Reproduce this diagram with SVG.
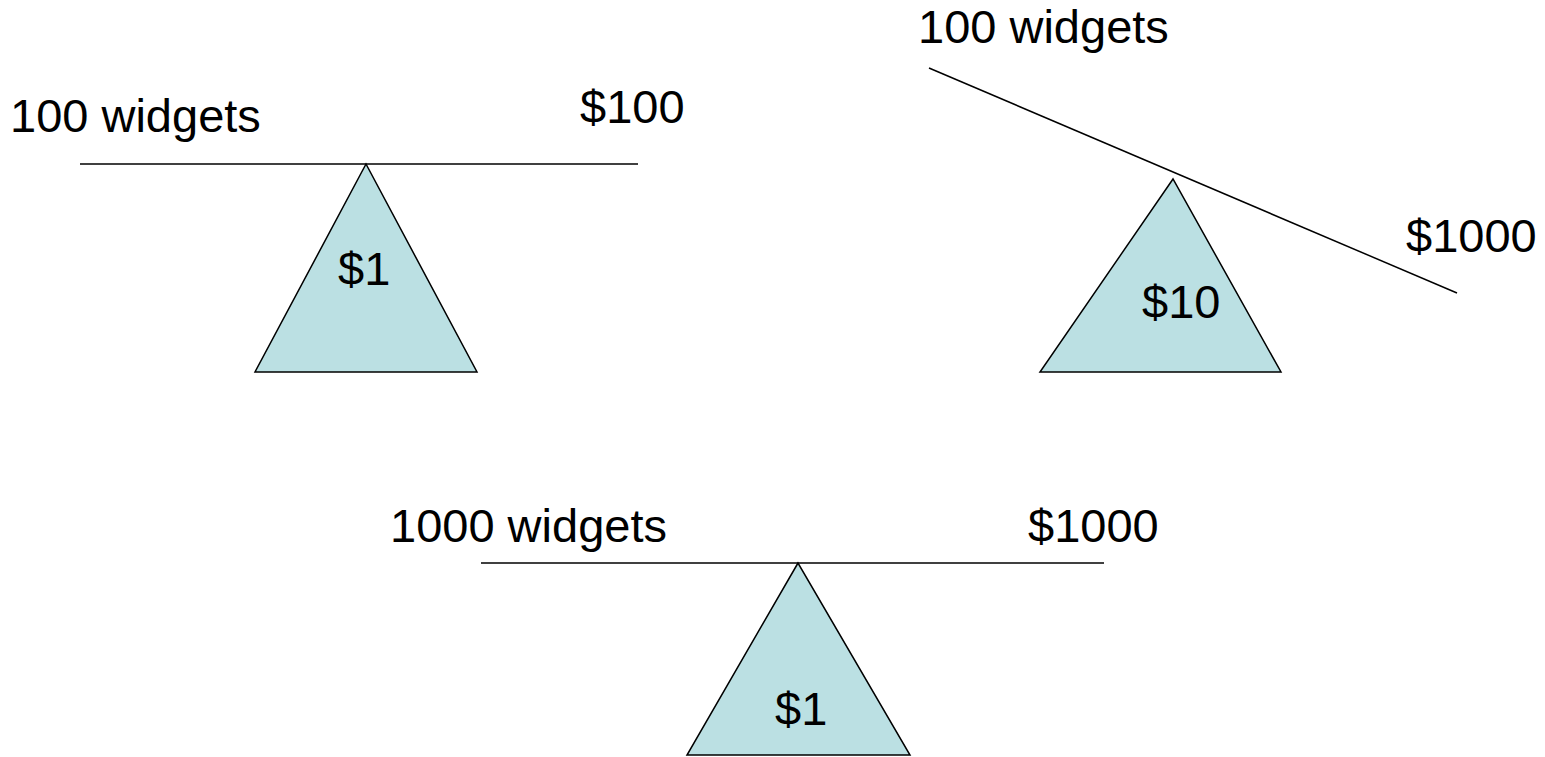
<svg xmlns="http://www.w3.org/2000/svg" width="1545" height="757" viewBox="0 0 1545 757">
<style>
text{font-family:"Liberation Sans",Arial,sans-serif;font-size:47px;fill:#000}
.beam{stroke:#000;stroke-width:1.5;fill:none}
.tri{fill:#BBE0E3;stroke:#000;stroke-width:1.5;stroke-linejoin:miter}
</style>
<rect width="1545" height="757" fill="#fff"/>
<g id="connectors">
<line class="beam" x1="80" y1="164" x2="638" y2="164"/>
<line class="beam" x1="929" y1="68" x2="1457" y2="293"/>
<line class="beam" x1="481" y1="563" x2="1104" y2="563"/>
</g>
<g id="scale1">
<polygon class="tri" points="366,164 255,372 477,372"/>
<text x="338" y="285">$1</text>
<text x="10" y="132">100 widgets</text>
<text x="580" y="123">$100</text>
</g>
<g id="scale2">
<polygon class="tri" points="1173,179 1040,372 1281,372"/>
<text x="1142" y="318">$10</text>
<text x="918" y="43">100 widgets</text>
<text x="1406" y="252">$1000</text>
</g>
<g id="scale3">
<polygon class="tri" points="798,563 687,755 910,755"/>
<text x="775" y="725">$1</text>
<text x="390" y="542">1000 widgets</text>
<text x="1028" y="542">$1000</text>
</g>
</svg>
